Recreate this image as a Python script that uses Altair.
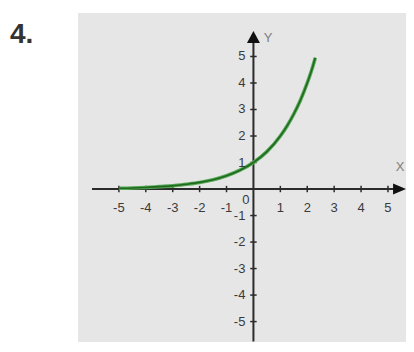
import altair as alt
import pandas as pd

# ---- data ----
curve_x = [-5.0, -4.5, -4.0, -3.5, -3.0, -2.5, -2.0, -1.5, -1.0, -0.5, 0.0, 0.5, 1.0, 1.25, 1.5, 1.75, 2.0, 2.15, 2.3]
curve_y = [0.03, 0.04, 0.06, 0.09, 0.12, 0.18, 0.25, 0.35, 0.5, 0.71, 1.0, 1.41, 2.0, 2.38, 2.83, 3.36, 4.0, 4.44, 4.95]

x_ticks = [-5, -4, -3, -2, -1, 1, 2, 3, 4, 5]
x_tick_labels = ["-5", "-4", "-3", "-2", "-1", "1", "2", "3", "4", "5"]
y_ticks = [5, 4, 3, 2, 1, -1, -2, -3, -4, -5]
y_tick_labels = ["5", "4", "3", "2", "1", "-1", "-2", "-3", "-4", "-5"]
origin_label = "0"
x_axis_name = "X"
y_axis_name = "Y"
problem_label = "4."

X_DOMAIN = [-6.52, 5.67]
Y_DOMAIN = [-5.77, 6.64]

xs = alt.Scale(domain=X_DOMAIN, nice=False, zero=False)
ys = alt.Scale(domain=Y_DOMAIN, nice=False, zero=False)

AXIS_COLOR = "#2b2b2b"
LABEL_COLOR = "#3a3a3a"
FONT = "Liberation Sans"

ARROW_RIGHT = "M-1,-0.85L1,0L-1,0.85Z"
ARROW_UP = "M0,-1L1,0.85L-1,0.85Z"


def X(field="x"):
    return alt.X(f"{field}:Q", scale=xs, axis=None)


def Y(field="y"):
    return alt.Y(f"{field}:Q", scale=ys, axis=None)


# axis lines
axis_df = pd.DataFrame({
    "x": [-6.0, 0.0], "x2": [5.5, 0.0],
    "y": [0.0, -5.75], "y2": [0.0, 5.8],
})
axes = alt.Chart(axis_df).mark_rule(color=AXIS_COLOR, strokeWidth=2).encode(
    x=X(), x2="x2:Q", y=Y(), y2="y2:Q"
)

# tick marks
xt_df = pd.DataFrame({"x": x_ticks, "y": [-0.12] * len(x_ticks), "y2": [0.12] * len(x_ticks)})
xt = alt.Chart(xt_df).mark_rule(color=AXIS_COLOR, strokeWidth=1.5).encode(x=X(), y=Y(), y2="y2:Q")
yt_df = pd.DataFrame({"y": y_ticks, "x": [-0.12] * len(y_ticks), "x2": [0.12] * len(y_ticks)})
yt = alt.Chart(yt_df).mark_rule(color=AXIS_COLOR, strokeWidth=1.5).encode(x=X(), x2="x2:Q", y=Y())

# arrows
arrow_r = alt.Chart(pd.DataFrame({"x": [5.43], "y": [0.0]})).mark_point(
    shape=ARROW_RIGHT, filled=True, color="#111111", size=169, opacity=1
).encode(x=X(), y=Y())
arrow_u = alt.Chart(pd.DataFrame({"x": [0.0], "y": [5.72]})).mark_point(
    shape=ARROW_UP, filled=True, color="#111111", size=169, opacity=1
).encode(x=X(), y=Y())

# curve (light green halo with dark green core)
curve_df = pd.DataFrame({"x": curve_x, "y": curve_y})
curve_outer = alt.Chart(curve_df).mark_line(
    color="#55a855", strokeWidth=3.6, interpolate="monotone"
).encode(x=X(), y=Y())
curve_inner = alt.Chart(curve_df).mark_line(
    color="#1f6a1f", strokeWidth=1.6, interpolate="monotone"
).encode(x=X(), y=Y())

# tick labels
xl_df = pd.DataFrame({"x": x_ticks, "y": [-0.7] * len(x_ticks), "t": x_tick_labels})
xl = alt.Chart(xl_df).mark_text(
    font=FONT, fontSize=13, color=LABEL_COLOR, align="center", baseline="middle"
).encode(x=X(), y=Y(), text="t:N")
yl_df = pd.DataFrame({"y": y_ticks, "x": [-0.3] * len(y_ticks), "t": y_tick_labels})
yl = alt.Chart(yl_df).mark_text(
    font=FONT, fontSize=13, color=LABEL_COLOR, align="right", baseline="middle"
).encode(x=X(), y=Y(), text="t:N")
ol = alt.Chart(pd.DataFrame({"x": [-0.28], "y": [-0.4], "t": [origin_label]})).mark_text(
    font=FONT, fontSize=13, color=LABEL_COLOR, align="center", baseline="middle"
).encode(x=X(), y=Y(), text="t:N")

names_df = pd.DataFrame({"x": [5.45, 0.54], "y": [0.83, 5.70], "t": [x_axis_name, y_axis_name]})
names = alt.Chart(names_df).mark_text(
    font=FONT, fontSize=13, color="#808080", align="center", baseline="middle"
).encode(x=X(), y=Y(), text="t:N")

prob = alt.Chart(pd.DataFrame({"t": [problem_label]})).mark_text(
    font=FONT, fontSize=28, fontWeight="bold", color="#333333", align="left", baseline="alphabetic"
).encode(x=alt.value(-68), y=alt.value(30), text="t:N")

chart = alt.layer(axes, xt, yt, curve_outer, curve_inner, arrow_r, arrow_u, xl, yl, ol, names, prob).properties(
    width=328, height=329,
    autosize=alt.AutoSizeParams(type="none"),
    padding={"left": 70, "top": 5, "right": 0, "bottom": 0},
    background="white",
).configure_view(fill="#e6e6e6", stroke=None)

chart.save("out.html", embed_options={"renderer": "svg", "actions": False})
